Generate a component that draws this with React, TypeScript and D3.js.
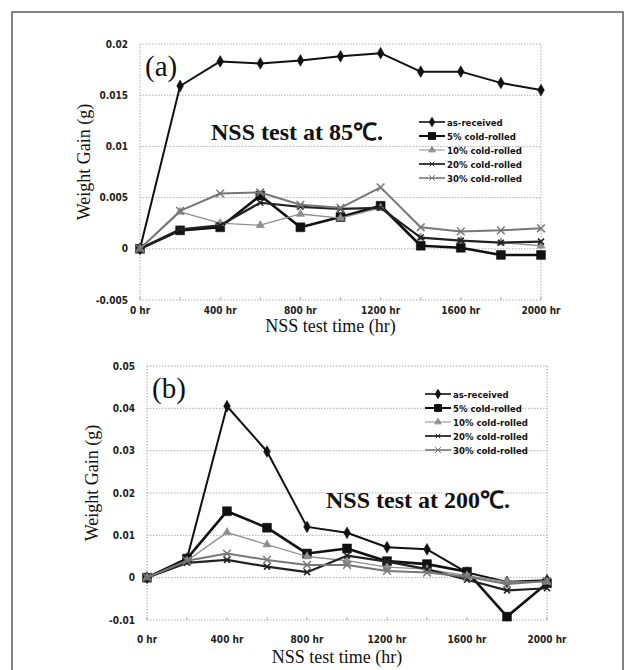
import React from 'react';
import * as d3 from 'd3';

// hours on the x axis, one value every 200 hr
const hours = [0, 200, 400, 600, 800, 1000, 1200, 1400, 1600, 1800, 2000];
const hourTicks = [0, 400, 800, 1200, 1600, 2000];
const seriesNames = ['as-received', '5% cold-rolled', '10% cold-rolled', '20% cold-rolled', '30% cold-rolled'];

/* (a) NSS test at 85C */
const a_asReceived = [0, 0.0159, 0.0183, 0.0181, 0.0184, 0.0188, 0.0191, 0.0173, 0.0173, 0.0162, 0.0155];
const a_cold5 = [0, 0.0018, 0.0021, 0.0052, 0.0021, 0.0031, 0.0042, 0.0003, 0.0001, -0.0006, -0.0006];
const a_cold10 = [0, 0.0036, 0.0025, 0.0023, 0.0034, 0.0030, 0.0040, 0.0011, 0.0008, 0.0006, 0.0003];
const a_cold20 = [0, 0.0019, 0.0023, 0.0045, 0.0041, 0.0039, 0.0040, 0.0011, 0.0008, 0.0006, 0.0007];
const a_cold30 = [0, 0.0037, 0.0054, 0.0055, 0.0043, 0.0040, 0.0060, 0.0021, 0.0017, 0.0018, 0.0020];
const a_yTicks = [0.02, 0.015, 0.01, 0.005, 0, -0.005];

/* (b) NSS test at 200C */
const b_asReceived = [0, 0.0045, 0.0405, 0.0298, 0.0120, 0.0106, 0.0072, 0.0067, 0.0012, -0.0010, -0.0006];
const b_cold5 = [0, 0.0045, 0.0157, 0.0118, 0.0057, 0.0069, 0.0039, 0.0032, 0.0014, -0.0092, -0.0013];
const b_cold10 = [0, 0.0040, 0.0107, 0.0078, 0.0050, 0.0040, 0.0025, 0.0020, 0.0005, -0.0010, -0.0010];
const b_cold20 = [0, 0.0035, 0.0042, 0.0026, 0.0013, 0.0052, 0.0038, 0.0020, -0.0005, -0.0030, -0.0025];
const b_cold30 = [0, 0.0040, 0.0057, 0.0042, 0.0030, 0.0030, 0.0016, 0.0012, 0.0002, -0.0015, -0.0008];
const b_yTicks = [0.05, 0.04, 0.03, 0.02, 0.01, 0, -0.01];

const styles = [
  { color: '#111', width: 2, symbol: d3.symbolDiamond, size: 40, fill: true },
  { color: '#111', width: 2.6, symbol: d3.symbolSquare, size: 80, fill: true },
  { color: '#8f8f8f', width: 1.3, symbol: d3.symbolTriangle, size: 30, fill: true },
  { color: '#222', width: 2.2, symbol: d3.symbolX, size: 25, fill: false },
  { color: '#777', width: 2, symbol: d3.symbolX, size: 40, fill: false },
];

const tickFont = '"Liberation Sans Narrow", "DejaVu Sans Condensed", sans-serif';

type PanelProps = {
  series: number[][];
  yTicks: number[];
  x0: number; x1: number; y0: number; y1: number;
  letter: string; note: string; noteX: number; noteY: number;
  legendY: number; yTitleX: number; xLabelY: number; xTitleY: number;
};

const Panel = (p: PanelProps) => {
  const x = d3.scaleLinear().domain([0, 2000]).range([p.x0, p.x1]);
  const y = d3.scaleLinear().domain([p.yTicks[p.yTicks.length - 1], p.yTicks[0]]).range([p.y1, p.y0]);
  const line = d3.line<number>().x((_, i) => x(hours[i])).y(d => y(d));
  const fmt = (v: number) => (v === 0 ? '0' : String(v));
  return (
    <g>
      {/* grid lines */}
      {p.yTicks.map(t => (
        <line key={t} x1={p.x0} x2={p.x1} y1={y(t)} y2={y(t)} stroke="#999" strokeWidth={0.8} strokeDasharray="1.5,1.5" />
      ))}
      <line x1={p.x0} x2={p.x0} y1={p.y0} y2={p.y1} stroke="#999" strokeWidth={0.8} strokeDasharray="1.5,1.5" />
      <line x1={p.x1} x2={p.x1} y1={p.y0} y2={p.y1} stroke="#999" strokeWidth={0.8} strokeDasharray="1.5,1.5" />
      {hours.map(h => (
        <line key={h} x1={x(h)} x2={x(h)} y1={p.y1} y2={p.y1 - 3} stroke="#999" strokeWidth={0.8} />
      ))}
      {/* y tick labels */}
      {p.yTicks.map(t => (
        <text key={t} x={p.x0 - 12} y={y(t) + 3.5} textAnchor="end" fontSize={10} fontWeight="bold" fontFamily={tickFont} fill="#222">{fmt(t)}</text>
      ))}
      {/* x tick labels */}
      {hourTicks.map(h => (
        <text key={h} x={x(h)} y={p.xLabelY} textAnchor="middle" fontSize={10} fontWeight="bold" fontFamily={tickFont} fill="#222">{h + ' hr'}</text>
      ))}
      <text x={(p.x0 + p.x1) / 2 - 10} y={p.xTitleY} textAnchor="middle" fontSize={18} fontFamily="'Liberation Serif', serif" fill="#111">NSS test time (hr)</text>
      <text transform={`translate(${p.yTitleX},${(p.y0 + p.y1) / 2 - 10}) rotate(-90)`} textAnchor="middle" fontSize={18} fontFamily="'Liberation Serif', serif" fill="#111">Weight Gain  (g)</text>
      <text x={p.x0 + 5} y={p.y0 + 32} fontSize={29} fontFamily="'Liberation Serif', serif" fill="#111">{p.letter}</text>
      <text x={p.noteX} y={p.noteY} fontSize={24} fontWeight="bold" fontFamily="'Liberation Serif', serif" fill="#111">{p.note}</text>
      {/* series */}
      {p.series.map((vals, si) => {
        const s = styles[si];
        const sym = d3.symbol().type(s.symbol).size(s.size)();
        return (
          <g key={si}>
            <path d={line(vals) || ''} fill="none" stroke={s.color} strokeWidth={s.width} strokeLinejoin="round" />
            {vals.map((v, i) => (
              <path key={i} d={sym || ''} transform={`translate(${x(hours[i])},${y(v)})`}
                fill={s.fill ? s.color : 'none'} stroke={s.color} strokeWidth={s.fill ? 0.5 : 1.5} />
            ))}
          </g>
        );
      })}
      {/* legend */}
      {seriesNames.map((n, i) => {
        const s = styles[i];
        const ly = p.legendY + i * 14;
        const sym = d3.symbol().type(s.symbol).size(s.size * 0.6)();
        return (
          <g key={n}>
            <line x1={p.x1 - 122} x2={p.x1 - 96} y1={ly} y2={ly} stroke={s.color} strokeWidth={s.width * 0.8} />
            <path d={sym || ''} transform={`translate(${p.x1 - 109},${ly})`} fill={s.fill ? s.color : 'none'} stroke={s.color} strokeWidth={1} />
            <text x={p.x1 - 94} y={ly + 3.5} fontSize={9.5} fontWeight="bold" fontFamily={tickFont} fill="#111">{n}</text>
          </g>
        );
      })}
    </g>
  );
};

const App = () => {
  return (
    <svg width={634} height={670} style={{ position: 'absolute', left: 0, top: 0, background: '#fff' }}>
      <rect x={12} y={12} width={611} height={680} fill="none" stroke="#333" strokeWidth={1.2} />
      <Panel series={[a_asReceived, a_cold5, a_cold10, a_cold20, a_cold30]} yTicks={a_yTicks}
        x0={140} x1={541} y0={44} y1={300} letter="(a)" note="NSS test at 85℃." noteX={211} noteY={140}
        legendY={122} yTitleX={90} xLabelY={314} xTitleY={332} />
      <Panel series={[b_asReceived, b_cold5, b_cold10, b_cold20, b_cold30]} yTicks={b_yTicks}
        x0={147} x1={547} y0={366} y1={620} letter="(b)" note="NSS test at 200℃." noteX={326} noteY={508}
        legendY={394} yTitleX={98} xLabelY={643} xTitleY={663} />
    </svg>
  );
};

export default App;
